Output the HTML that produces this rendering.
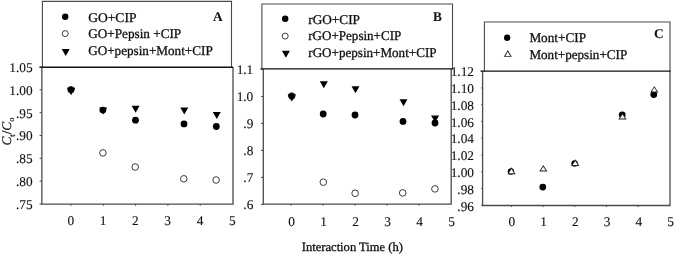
<!DOCTYPE html>
<html><head><meta charset="utf-8"><style>
html,body{margin:0;padding:0;background:#fff;}
body{width:675px;height:256px;overflow:hidden;}
svg{display:block;font-family:"Liberation Serif", serif;text-rendering:geometricPrecision;will-change:transform;}
text{fill:#111;stroke:#111;stroke-width:0.3px;}
.n{stroke-width:0.12px;}
.b{stroke-width:0.05px;}
</style></head><body>
<svg width="675" height="256" viewBox="0 0 675 256">

<path d="M41.85 67V204.2H233.0V67" fill="none" stroke="#4a4a4a" stroke-width="1.3"/>
<path d="M42.4 67.5V1.4H231.5V67.5" fill="none" stroke="#4a4a4a" stroke-width="1.1"/>
<path d="M39.5 67.3H233" stroke="#111" stroke-width="1.4"/>
<path d="M39.6 67.00H42.0" stroke="#4a4a4a" stroke-width="1"/>
<text x="32.6" y="71.90" text-anchor="end" font-size="13.33" font-weight="normal" font-style="normal" class="n">1.05</text>
<path d="M39.6 89.83H42.0" stroke="#4a4a4a" stroke-width="1"/>
<text x="32.6" y="94.73" text-anchor="end" font-size="13.33" font-weight="normal" font-style="normal" class="n">1.00</text>
<path d="M39.6 112.66H42.0" stroke="#4a4a4a" stroke-width="1"/>
<text x="32.6" y="117.56" text-anchor="end" font-size="13.33" font-weight="normal" font-style="normal" class="n">.95</text>
<path d="M39.6 135.49H42.0" stroke="#4a4a4a" stroke-width="1"/>
<text x="32.6" y="140.39" text-anchor="end" font-size="13.33" font-weight="normal" font-style="normal" class="n">.90</text>
<path d="M39.6 158.32H42.0" stroke="#4a4a4a" stroke-width="1"/>
<text x="32.6" y="163.22" text-anchor="end" font-size="13.33" font-weight="normal" font-style="normal" class="n">.85</text>
<path d="M39.6 181.15H42.0" stroke="#4a4a4a" stroke-width="1"/>
<text x="32.6" y="186.05" text-anchor="end" font-size="13.33" font-weight="normal" font-style="normal" class="n">.80</text>
<path d="M39.6 203.98H42.0" stroke="#4a4a4a" stroke-width="1"/>
<text x="32.6" y="208.88" text-anchor="end" font-size="13.33" font-weight="normal" font-style="normal" class="n">.75</text>
<path d="M71.00 204.2V205.8" stroke="#4a4a4a" stroke-width="1"/>
<text x="70.80" y="225.2" text-anchor="middle" font-size="13.33" font-weight="normal" font-style="normal" class="n">0</text>
<path d="M103.30 204.2V205.8" stroke="#4a4a4a" stroke-width="1"/>
<text x="103.10" y="225.2" text-anchor="middle" font-size="13.33" font-weight="normal" font-style="normal" class="n">1</text>
<path d="M135.60 204.2V205.8" stroke="#4a4a4a" stroke-width="1"/>
<text x="135.40" y="225.2" text-anchor="middle" font-size="13.33" font-weight="normal" font-style="normal" class="n">2</text>
<path d="M167.90 204.2V205.8" stroke="#4a4a4a" stroke-width="1"/>
<text x="167.70" y="225.2" text-anchor="middle" font-size="13.33" font-weight="normal" font-style="normal" class="n">3</text>
<path d="M200.20 204.2V205.8" stroke="#4a4a4a" stroke-width="1"/>
<text x="200.00" y="225.2" text-anchor="middle" font-size="13.33" font-weight="normal" font-style="normal" class="n">4</text>
<text x="232.30" y="225.2" text-anchor="middle" font-size="13.33" font-weight="normal" font-style="normal" class="n">5</text>
<circle cx="71" cy="89.7" r="3.3" fill="none" stroke="#3a3a3a" stroke-width="1.0"/>
<circle cx="102.9" cy="152.9" r="3.3" fill="none" stroke="#3a3a3a" stroke-width="1.0"/>
<circle cx="135.2" cy="167.0" r="3.3" fill="none" stroke="#3a3a3a" stroke-width="1.0"/>
<circle cx="183.8" cy="178.8" r="3.3" fill="none" stroke="#3a3a3a" stroke-width="1.0"/>
<circle cx="216.1" cy="180.0" r="3.3" fill="none" stroke="#3a3a3a" stroke-width="1.0"/>
<circle cx="70.9" cy="89.7" r="3.0" fill="#000"/>
<circle cx="102.9" cy="110.1" r="3.4" fill="#000"/>
<circle cx="135.5" cy="120.2" r="3.4" fill="#000"/>
<circle cx="184.0" cy="123.9" r="3.4" fill="#000"/>
<circle cx="216.3" cy="126.5" r="3.4" fill="#000"/>
<path d="M66.90 87.73L75.30 87.73L71.10 95.13Z" fill="#000"/>
<path d="M99.20 107.47L107.20 107.47L103.20 114.47Z" fill="#000"/>
<path d="M131.60 105.87L139.60 105.87L135.60 112.87Z" fill="#000"/>
<path d="M180.30 107.47L188.30 107.47L184.30 114.47Z" fill="#000"/>
<path d="M212.80 112.07L220.80 112.07L216.80 119.07Z" fill="#000"/>
<circle cx="65.2" cy="16.7" r="3.2" fill="#000"/>
<circle cx="65.2" cy="33.6" r="3.0" fill="none" stroke="#3a3a3a" stroke-width="1.0"/>
<path d="M61.70 48.97L69.70 48.97L65.70 55.97Z" fill="#000"/>
<text x="88.15" y="21.7" text-anchor="start" font-size="13.33" font-weight="normal" font-style="normal" textLength="48.29" lengthAdjust="spacingAndGlyphs">GO+CIP</text>
<text x="88.15" y="38.0" text-anchor="start" font-size="13.33" font-weight="normal" font-style="normal" textLength="93.08" lengthAdjust="spacingAndGlyphs">GO+Pepsin +CIP</text>
<text x="88.15" y="55.4" text-anchor="start" font-size="13.33" font-weight="normal" font-style="normal" textLength="124.57" lengthAdjust="spacingAndGlyphs">GO+pepsin+Mont+CIP</text>
<text x="213.1" y="20.6" text-anchor="start" font-size="13.33" font-weight="bold" font-style="normal" class="b">A</text>
<text transform="translate(10.9,145.6) rotate(-90)" font-size="13.33" style="stroke-width:0.2px"><tspan font-style="italic">C</tspan><tspan font-size="8.5" dy="3.6">t</tspan><tspan dy="-3.6">/</tspan><tspan font-style="italic">C</tspan><tspan font-size="8.5" dy="3.2">o</tspan></text>
<path d="M263.3 69V204.2H451.2V69" fill="none" stroke="#4a4a4a" stroke-width="1.3"/>
<path d="M261.9 69.5V4.0H452.5V69.5" fill="none" stroke="#4a4a4a" stroke-width="1.1"/>
<path d="M260.5 68.9H452.5" stroke="#111" stroke-width="1.4"/>
<path d="M261 69.40H263.5" stroke="#4a4a4a" stroke-width="1"/>
<text x="253.3" y="74.30" text-anchor="end" font-size="13.33" font-weight="normal" font-style="normal" class="n">1.1</text>
<path d="M261 96.40H263.5" stroke="#4a4a4a" stroke-width="1"/>
<text x="253.3" y="101.30" text-anchor="end" font-size="13.33" font-weight="normal" font-style="normal" class="n">1.0</text>
<path d="M261 123.40H263.5" stroke="#4a4a4a" stroke-width="1"/>
<text x="253.3" y="128.30" text-anchor="end" font-size="13.33" font-weight="normal" font-style="normal" class="n">.9</text>
<path d="M261 150.40H263.5" stroke="#4a4a4a" stroke-width="1"/>
<text x="253.3" y="155.30" text-anchor="end" font-size="13.33" font-weight="normal" font-style="normal" class="n">.8</text>
<path d="M261 177.40H263.5" stroke="#4a4a4a" stroke-width="1"/>
<text x="253.3" y="182.30" text-anchor="end" font-size="13.33" font-weight="normal" font-style="normal" class="n">.7</text>
<path d="M261 204.40H263.5" stroke="#4a4a4a" stroke-width="1"/>
<text x="253.3" y="209.30" text-anchor="end" font-size="13.33" font-weight="normal" font-style="normal" class="n">.6</text>
<path d="M291.20 204.2V205.8" stroke="#4a4a4a" stroke-width="1"/>
<text x="291.50" y="225.5" text-anchor="middle" font-size="13.33" font-weight="normal" font-style="normal" class="n">0</text>
<path d="M323.20 204.2V205.8" stroke="#4a4a4a" stroke-width="1"/>
<text x="323.50" y="225.5" text-anchor="middle" font-size="13.33" font-weight="normal" font-style="normal" class="n">1</text>
<path d="M355.20 204.2V205.8" stroke="#4a4a4a" stroke-width="1"/>
<text x="355.50" y="225.5" text-anchor="middle" font-size="13.33" font-weight="normal" font-style="normal" class="n">2</text>
<path d="M387.20 204.2V205.8" stroke="#4a4a4a" stroke-width="1"/>
<text x="387.50" y="225.5" text-anchor="middle" font-size="13.33" font-weight="normal" font-style="normal" class="n">3</text>
<path d="M419.20 204.2V205.8" stroke="#4a4a4a" stroke-width="1"/>
<text x="419.50" y="225.5" text-anchor="middle" font-size="13.33" font-weight="normal" font-style="normal" class="n">4</text>
<text x="451.50" y="225.5" text-anchor="middle" font-size="13.33" font-weight="normal" font-style="normal" class="n">5</text>
<circle cx="291.8" cy="96.0" r="3.3" fill="none" stroke="#3a3a3a" stroke-width="1.0"/>
<circle cx="323.3" cy="182.2" r="3.3" fill="none" stroke="#3a3a3a" stroke-width="1.0"/>
<circle cx="355.1" cy="193.3" r="3.3" fill="none" stroke="#3a3a3a" stroke-width="1.0"/>
<circle cx="402.7" cy="192.9" r="3.3" fill="none" stroke="#3a3a3a" stroke-width="1.0"/>
<circle cx="434.9" cy="188.9" r="3.3" fill="none" stroke="#3a3a3a" stroke-width="1.0"/>
<circle cx="291.6" cy="96.1" r="3.0" fill="#000"/>
<circle cx="323.2" cy="114.0" r="3.4" fill="#000"/>
<circle cx="355.0" cy="115.0" r="3.4" fill="#000"/>
<circle cx="403.0" cy="121.4" r="3.4" fill="#000"/>
<circle cx="435.0" cy="123.0" r="3.4" fill="#000"/>
<path d="M287.60 94.30L296.00 94.30L291.80 101.50Z" fill="#000"/>
<path d="M319.80 81.17L327.80 81.17L323.80 88.17Z" fill="#000"/>
<path d="M351.50 86.37L359.50 86.37L355.50 93.37Z" fill="#000"/>
<path d="M399.50 99.37L407.50 99.37L403.50 106.37Z" fill="#000"/>
<path d="M431.10 115.47L439.10 115.47L435.10 122.47Z" fill="#000"/>
<circle cx="285.2" cy="18.8" r="3.2" fill="#000"/>
<circle cx="285.2" cy="36.1" r="3.0" fill="none" stroke="#3a3a3a" stroke-width="1.0"/>
<path d="M281.90 50.87L289.90 50.87L285.90 57.87Z" fill="#000"/>
<text x="308.29" y="23.8" text-anchor="start" font-size="13.33" font-weight="normal" font-style="normal" textLength="51.71" lengthAdjust="spacingAndGlyphs">rGO+CIP</text>
<text x="308.29" y="39.8" text-anchor="start" font-size="13.33" font-weight="normal" font-style="normal" textLength="92.97" lengthAdjust="spacingAndGlyphs">rGO+Pepsin+CIP</text>
<text x="308.29" y="57.1" text-anchor="start" font-size="13.33" font-weight="normal" font-style="normal" textLength="128.24" lengthAdjust="spacingAndGlyphs">rGO+pepsin+Mont+CIP</text>
<text x="432.9" y="20.5" text-anchor="start" font-size="13.33" font-weight="bold" font-style="normal" class="b">B</text>
<path d="M482.6 71V205.5H670.0V71" fill="none" stroke="#4a4a4a" stroke-width="1.3"/>
<path d="M484.4 71.5V22.0H670.0V71.5" fill="none" stroke="#4a4a4a" stroke-width="1.1"/>
<path d="M480.5 71.1H670.5" stroke="#111" stroke-width="1.4"/>
<path d="M481.2 71.10H482.6" stroke="#4a4a4a" stroke-width="1"/>
<text x="474" y="76.30" text-anchor="end" font-size="13.33" font-weight="normal" font-style="normal" class="n">1.12</text>
<path d="M481.2 87.88H482.6" stroke="#4a4a4a" stroke-width="1"/>
<text x="474" y="93.08" text-anchor="end" font-size="13.33" font-weight="normal" font-style="normal" class="n">1.10</text>
<path d="M481.2 104.66H482.6" stroke="#4a4a4a" stroke-width="1"/>
<text x="474" y="109.86" text-anchor="end" font-size="13.33" font-weight="normal" font-style="normal" class="n">1.08</text>
<path d="M481.2 121.44H482.6" stroke="#4a4a4a" stroke-width="1"/>
<text x="474" y="126.64" text-anchor="end" font-size="13.33" font-weight="normal" font-style="normal" class="n">1.06</text>
<path d="M481.2 138.22H482.6" stroke="#4a4a4a" stroke-width="1"/>
<text x="474" y="143.42" text-anchor="end" font-size="13.33" font-weight="normal" font-style="normal" class="n">1.04</text>
<path d="M481.2 155.00H482.6" stroke="#4a4a4a" stroke-width="1"/>
<text x="474" y="160.20" text-anchor="end" font-size="13.33" font-weight="normal" font-style="normal" class="n">1.02</text>
<path d="M481.2 171.78H482.6" stroke="#4a4a4a" stroke-width="1"/>
<text x="474" y="176.98" text-anchor="end" font-size="13.33" font-weight="normal" font-style="normal" class="n">1.00</text>
<path d="M481.2 188.56H482.6" stroke="#4a4a4a" stroke-width="1"/>
<text x="474" y="193.76" text-anchor="end" font-size="13.33" font-weight="normal" font-style="normal" class="n">.98</text>
<path d="M481.2 205.34H482.6" stroke="#4a4a4a" stroke-width="1"/>
<text x="474" y="210.54" text-anchor="end" font-size="13.33" font-weight="normal" font-style="normal" class="n">.96</text>
<path d="M511.40 205.5V207" stroke="#4a4a4a" stroke-width="1"/>
<text x="511.90" y="226.2" text-anchor="middle" font-size="13.33" font-weight="normal" font-style="normal" class="n">0</text>
<path d="M543.12 205.5V207" stroke="#4a4a4a" stroke-width="1"/>
<text x="543.62" y="226.2" text-anchor="middle" font-size="13.33" font-weight="normal" font-style="normal" class="n">1</text>
<path d="M574.84 205.5V207" stroke="#4a4a4a" stroke-width="1"/>
<text x="575.34" y="226.2" text-anchor="middle" font-size="13.33" font-weight="normal" font-style="normal" class="n">2</text>
<path d="M606.56 205.5V207" stroke="#4a4a4a" stroke-width="1"/>
<text x="607.06" y="226.2" text-anchor="middle" font-size="13.33" font-weight="normal" font-style="normal" class="n">3</text>
<path d="M638.28 205.5V207" stroke="#4a4a4a" stroke-width="1"/>
<text x="638.78" y="226.2" text-anchor="middle" font-size="13.33" font-weight="normal" font-style="normal" class="n">4</text>
<text x="670.50" y="226.2" text-anchor="middle" font-size="13.33" font-weight="normal" font-style="normal" class="n">5</text>
<circle cx="510.9" cy="171.5" r="3.2" fill="#000"/>
<circle cx="542.8" cy="187.1" r="3.4" fill="#000"/>
<circle cx="574.6" cy="163.4" r="3.2" fill="#000"/>
<circle cx="622.2" cy="114.8" r="3.4" fill="#000"/>
<circle cx="653.8" cy="94.6" r="3.4" fill="#000"/>
<path d="M511.50 167.30L507.35 174.20L515.65 174.20Z" fill="#222"/>
<path d="M511.50 169.05L508.94 173.30L514.06 173.30Z" fill="#fff"/>
<path d="M543.30 165.10L539.25 171.50L547.35 171.50Z" fill="#222"/>
<path d="M543.30 166.78L540.88 170.60L545.72 170.60Z" fill="#fff"/>
<path d="M575.20 159.20L571.05 166.00L579.35 166.00Z" fill="#222"/>
<path d="M575.20 160.93L572.65 165.10L577.75 165.10Z" fill="#fff"/>
<path d="M622.50 112.90L618.35 119.40L626.65 119.40Z" fill="#222"/>
<path d="M622.50 114.57L619.99 118.50L625.01 118.50Z" fill="#fff"/>
<path d="M654.30 85.90L650.25 92.40L658.35 92.40Z" fill="#222"/>
<path d="M654.30 87.60L651.87 91.50L656.73 91.50Z" fill="#fff"/>
<circle cx="507.2" cy="37.7" r="3.2" fill="#000"/>
<path d="M507.80 50.10L503.75 56.80L511.85 56.80Z" fill="#222"/>
<path d="M507.80 51.84L505.35 55.90L510.25 55.90Z" fill="#fff"/>
<text x="529.39" y="42.0" text-anchor="start" font-size="13.33" font-weight="normal" font-style="normal" textLength="56.61" lengthAdjust="spacingAndGlyphs">Mont+CIP</text>
<text x="529.39" y="59.1" text-anchor="start" font-size="13.33" font-weight="normal" font-style="normal" textLength="97.85" lengthAdjust="spacingAndGlyphs">Mont+pepsin+CIP</text>
<text x="654.1" y="37.9" text-anchor="start" font-size="13.33" font-weight="bold" font-style="normal" class="b">C</text>
<text x="301.74" y="251" text-anchor="start" font-size="12.6" font-weight="normal" font-style="normal" textLength="101.27" lengthAdjust="spacingAndGlyphs">Interaction Time (h)</text>
</svg>
</body></html>
